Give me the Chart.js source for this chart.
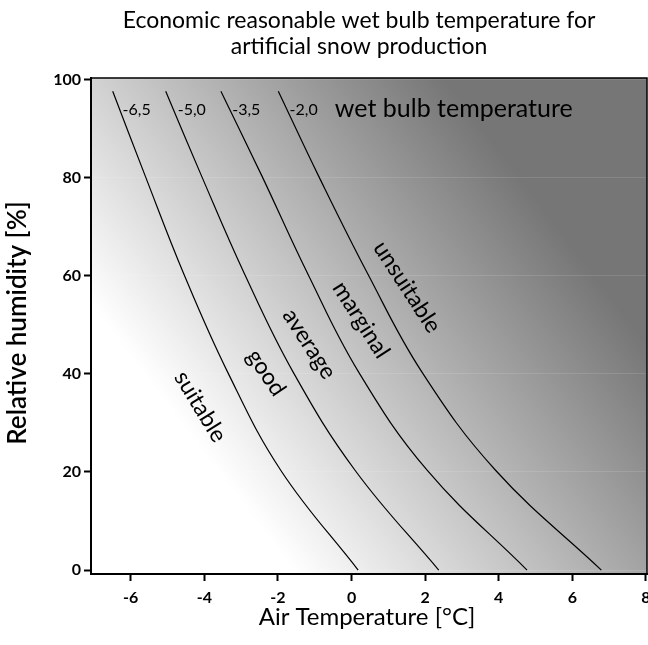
<!DOCTYPE html>
<html>
<head>
<meta charset="utf-8">
<script src="https://cdn.jsdelivr.net/npm/chart.js@4.4.1/dist/chart.umd.min.js"></script>
<style>
  html, body { margin: 0; padding: 0; background: #fff; }
  #wrap { width: 648px; height: 645px; position: relative; }
</style>
</head>
<body>
<div id="wrap"><canvas id="chart" width="648" height="645"></canvas></div>
<script>
const humidity = [97.6, 80.4, 60.4, 40.4, 20.3, 0];
// Air temperature (°C) of each wet bulb isoline at those humidities
const tw65 = [-6.49, -5.61, -4.56, -3.37, -1.92, 0.18];
const tw50 = [-5.05, -4.08, -2.91, -1.59, 0.10, 2.37];
const tw35 = [-3.55, -2.44, -1.19, 0.19, 2.06, 4.77];
const tw20 = [-1.99, -0.90, 0.44, 1.91, 3.92, 6.79];
const isoLabels = ['-6,5', '-5,0', '-3,5', '-2,0'];
const zoneLabels = ['suitable', 'good', 'average', 'marginal', 'unsuitable'];
const xTicks = [-6, -4, -2, 0, 2, 4, 6, 8];
const yTicks = [0, 20, 40, 60, 80, 100];

const FONT = 'Lato, "Open Sans", sans-serif';

function toPoints(xs) {
  return xs.map((x, i) => ({ x: x, y: humidity[i] }));
}

const isolines = [tw65, tw50, tw35, tw20].map((xs, i) => ({
  label: isoLabels[i],
  data: toPoints(xs),
  showLine: true,
  borderColor: '#000',
  borderWidth: 1.2,
  pointRadius: 0,
  tension: 0.4,
  fill: false
}));

// grey background: white in the cold/dry corner, dark towards warm/humid
const shading = {
  id: 'shading',
  beforeDraw(chart) {
    const { ctx, chartArea: a } = chart;
    const w = a.right - a.left, h = a.bottom - a.top;
    const g = ctx.createLinearGradient(a.left + 0.369 * w, a.bottom, a.left + 0.967 * w, a.top + 0.489 * h);
    g.addColorStop(0, '#ffffff');
    g.addColorStop(1, '#767676');
    ctx.save();
    ctx.fillStyle = g;
    ctx.fillRect(a.left, a.top, w, h);
    ctx.restore();
  }
};

// title, axis titles and the labels inside the plot
const texts = {
  id: 'texts',
  afterDraw(chart) {
    const { ctx, chartArea: a, scales } = chart;
    const sx = scales.x, sy = scales.y;
    ctx.save();

    // top and right frame
    ctx.strokeStyle = '#000';
    ctx.lineWidth = 1.5;
    ctx.beginPath();
    ctx.moveTo(a.left, a.top);
    ctx.lineTo(a.right, a.top);
    ctx.lineTo(a.right, a.bottom);
    ctx.stroke();

    ctx.fillStyle = '#000';
    ctx.textAlign = 'center';
    ctx.textBaseline = 'middle';

    ctx.font = '23px ' + FONT;
    ctx.fillText('Economic reasonable wet bulb temperature for', 359, 21);
    ctx.fillText('artificial snow production', 359, 47);

    ctx.font = '24px ' + FONT;
    ctx.fillText('Air Temperature [°C]', 367, 617);

    ctx.save();
    ctx.translate(18, 323);
    ctx.rotate(-Math.PI / 2);
    ctx.font = '600 26px ' + FONT;
    ctx.fillText('Relative humidity [%]', 0, 0);
    ctx.restore();

    // isoline values along the top
    const isoPos = [-5.84, -4.34, -2.86, -1.30];
    ctx.font = '16px ' + FONT;
    isoLabels.forEach((t, i) => {
      ctx.fillText(t, sx.getPixelForValue(isoPos[i]), sy.getPixelForValue(93.9));
    });
    ctx.font = '25px ' + FONT;
    ctx.fillText('wet bulb temperature', sx.getPixelForValue(2.78), sy.getPixelForValue(93.9));

    // zone names rotated along the curves
    const zonePos = [
      [-4.11, 33.3, 58.6],
      [-2.32, 40.2, 56],
      [-1.15, 46.1, 57],
      [0.26, 51.0, 57.5],
      [1.51, 57.7, 57]
    ];
    ctx.font = '23px ' + FONT;
    zoneLabels.forEach((t, i) => {
      const [x, y, ang] = zonePos[i];
      ctx.save();
      ctx.translate(sx.getPixelForValue(x), sy.getPixelForValue(y));
      ctx.rotate(ang * Math.PI / 180);
      ctx.fillText(t, 0, 0);
      ctx.restore();
    });

    ctx.restore();
  }
};

new Chart(document.getElementById('chart'), {
  type: 'scatter',
  data: { datasets: isolines },
  plugins: [shading, texts],
  options: {
    responsive: false,
    animation: false,
    layout: { padding: { top: 78, right: 1, left: 0, bottom: 0 } },
    plugins: {
      legend: { display: false },
      tooltip: { enabled: false },
      title: { display: false }
    },
    scales: {
      x: {
        type: 'linear',
        min: -7.08,
        max: 8.03,
        afterFit: (axis) => {
          axis.height = 71;
          axis.paddingLeft = 0;
          axis.paddingRight = 0;
        },
        afterBuildTicks: (axis) => { axis.ticks = xTicks.map(v => ({ value: v })); },
        ticks: {
          color: '#000',
          font: { family: FONT, size: 16, weight: 'bold' },
          padding: 7
        },
        grid: {
          drawOnChartArea: false,
          tickColor: '#000',
          tickLength: 7,
          tickWidth: 2
        },
        border: { color: '#000', width: 2 }
      },
      y: {
        type: 'linear',
        min: -0.8,
        max: 100.3,
        afterFit: (axis) => {
          axis.width = 91;
          axis.paddingTop = 0;
          axis.paddingBottom = 0;
        },
        afterBuildTicks: (axis) => { axis.ticks = yTicks.map(v => ({ value: v })); },
        ticks: {
          color: '#000',
          font: { family: FONT, size: 16, weight: 'bold' },
          padding: 3
        },
        grid: {
          color: 'rgba(255,255,255,0.12)',
          lineWidth: 1,
          tickColor: '#000',
          tickLength: 7,
          tickWidth: 2
        },
        border: { color: '#000', width: 2 }
      }
    }
  }
});
</script>
</body>
</html>
